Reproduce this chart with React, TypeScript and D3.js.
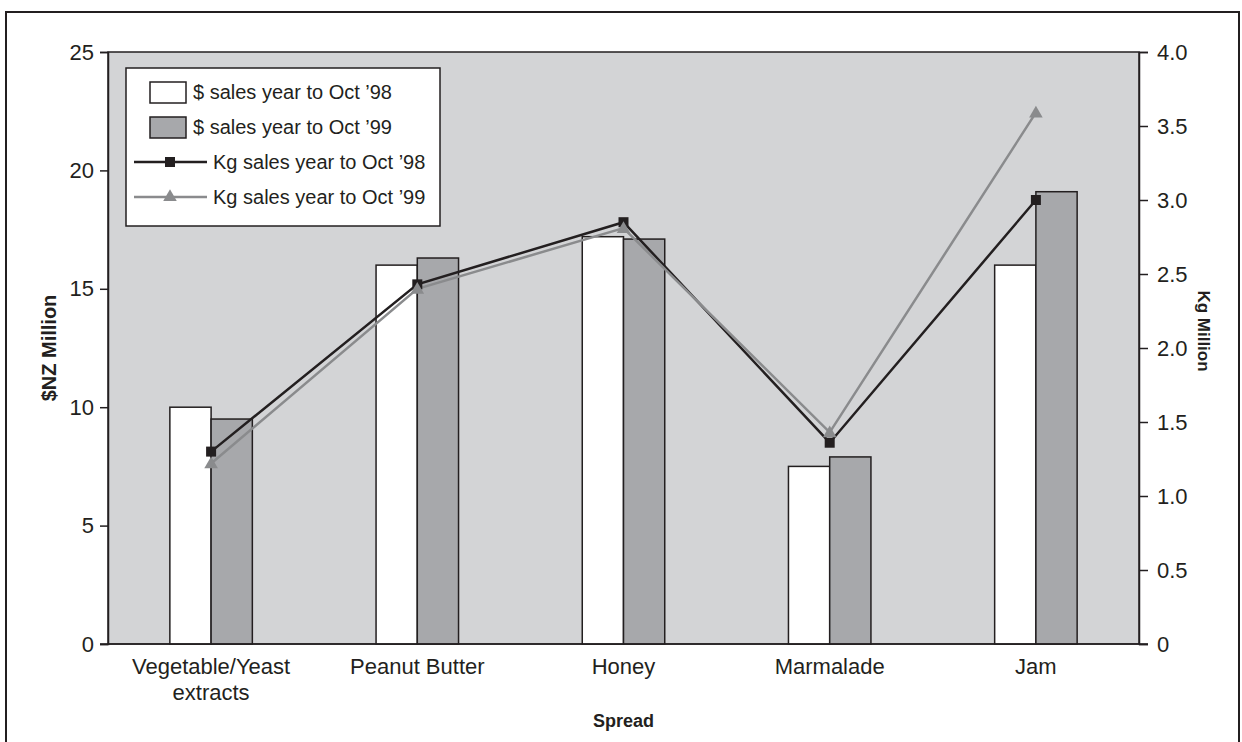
import React, { useEffect, useRef } from 'react';
import * as d3 from 'd3';

const categories = ['Vegetable/Yeast extracts', 'Peanut Butter', 'Honey', 'Marmalade', 'Jam'];
const dollars98 = [10.0, 16.0, 17.2, 7.5, 16.0];
const dollars99 = [9.5, 16.3, 17.1, 7.9, 19.1];
const kg98 = [1.3, 2.43, 2.85, 1.36, 3.0];
const kg99 = [1.22, 2.4, 2.81, 1.43, 3.59];
const leftTicks = [0, 5, 10, 15, 20, 25];
const rightTicks = [0, 0.5, 1.0, 1.5, 2.0, 2.5, 3.0, 3.5, 4.0];

const W = 1242;
const H = 742;
const INK = '#231f20';
const PLOT_BG = '#d3d4d6';
const BAR99 = '#a7a8ab';
const LINE99 = '#8a8b8d';
const FONT = '"Liberation Sans", Arial, sans-serif';

const App: React.FC = () => {
  const svgRef = useRef<SVGSVGElement>(null);

  useEffect(() => {
    if (!svgRef.current) return;
    const svg = d3.select(svgRef.current);
    svg.selectAll('*').remove();

    const plot = { left: 108, top: 52, right: 1139, bottom: 644 };

    const x = d3.scaleBand<string>()
      .domain(categories)
      .range([plot.left, plot.right])
      .paddingInner(0)
      .paddingOuter(0);
    const yL = d3.scaleLinear().domain([0, 25]).range([plot.bottom, plot.top]);
    const yR = d3.scaleLinear().domain([0, 4]).range([plot.bottom, plot.top]);
    const barW = x.bandwidth() / 5;
    const cx = (c: string) => x(c)! + x.bandwidth() / 2;

    // outer frame
    svg.append('rect')
      .attr('x', 6).attr('y', 12)
      .attr('width', 1233).attr('height', 740)
      .attr('fill', 'white')
      .attr('stroke', INK).attr('stroke-width', 2);

    // plot area
    svg.append('rect')
      .attr('x', plot.left).attr('y', plot.top)
      .attr('width', plot.right - plot.left).attr('height', plot.bottom - plot.top)
      .attr('fill', PLOT_BG)
      .attr('stroke', INK).attr('stroke-width', 1.5);

    // bars
    const g = svg.append('g');
    g.selectAll('.b98')
      .data(categories)
      .enter().append('rect')
      .attr('x', d => cx(d) - barW)
      .attr('y', (d, i) => yL(dollars98[i]))
      .attr('width', barW)
      .attr('height', (d, i) => plot.bottom - yL(dollars98[i]))
      .attr('fill', 'white')
      .attr('stroke', INK).attr('stroke-width', 1.5);
    g.selectAll('.b99')
      .data(categories)
      .enter().append('rect')
      .attr('x', d => cx(d))
      .attr('y', (d, i) => yL(dollars99[i]))
      .attr('width', barW)
      .attr('height', (d, i) => plot.bottom - yL(dollars99[i]))
      .attr('fill', BAR99)
      .attr('stroke', INK).attr('stroke-width', 1.5);

    // lines
    const line = d3.line<number>()
      .x((d, i) => cx(categories[i]))
      .y(d => yR(d));
    g.append('path').attr('d', line(kg98)).attr('fill', 'none')
      .attr('stroke', INK).attr('stroke-width', 2.5);
    g.append('path').attr('d', line(kg99)).attr('fill', 'none')
      .attr('stroke', LINE99).attr('stroke-width', 2.5);

    const tri = d3.symbol().type(d3.symbolTriangle).size(80);
    g.selectAll('.m98')
      .data(kg98)
      .enter().append('rect')
      .attr('x', (d, i) => cx(categories[i]) - 5)
      .attr('y', d => yR(d) - 5)
      .attr('width', 10).attr('height', 10)
      .attr('fill', INK);
    g.selectAll('.m99')
      .data(kg99)
      .enter().append('path')
      .attr('d', tri()!)
      .attr('transform', (d, i) => `translate(${cx(categories[i])},${yR(d) + 1})`)
      .attr('fill', LINE99);

    // axes
    svg.append('line')
      .attr('x1', plot.left - 8).attr('x2', plot.right + 9)
      .attr('y1', plot.bottom).attr('y2', plot.bottom)
      .attr('stroke', INK).attr('stroke-width', 1.5);

    const leftAxis = svg.append('g')
      .attr('transform', `translate(${plot.left},0)`)
      .call(d3.axisLeft(yL).tickValues(leftTicks).tickSize(8).tickPadding(6).tickFormat(d3.format('d')));
    leftAxis.select('.domain').attr('stroke', INK).attr('stroke-width', 1.5);
    leftAxis.selectAll('line').attr('stroke', INK).attr('stroke-width', 1.5);
    leftAxis.selectAll('text')
      .style('font-family', FONT).style('font-size', '22px').attr('fill', INK);

    const rightAxis = svg.append('g')
      .attr('transform', `translate(${plot.right},0)`)
      .call(d3.axisRight(yR).tickValues(rightTicks).tickSize(9).tickPadding(9)
        .tickFormat(d => (d === 0 ? '0' : d3.format('.1f')(d as number))));
    rightAxis.select('.domain').attr('stroke', INK).attr('stroke-width', 1.5);
    rightAxis.selectAll('line').attr('stroke', INK).attr('stroke-width', 1.5);
    rightAxis.selectAll('text')
      .style('font-family', FONT).style('font-size', '22px').attr('fill', INK);

    // category labels
    const catLabels = svg.append('g')
      .style('font-family', FONT).style('font-size', '22px').attr('fill', INK)
      .attr('text-anchor', 'middle');
    categories.forEach(c => {
      const parts = c === 'Vegetable/Yeast extracts' ? ['Vegetable/Yeast', 'extracts'] : [c];
      const t = catLabels.append('text').attr('x', cx(c)).attr('y', 674);
      parts.forEach((p, i) => {
        t.append('tspan').attr('x', cx(c)).attr('dy', i === 0 ? 0 : 26).text(p);
      });
    });

    // axis titles
    const titleStyle = (s: d3.Selection<SVGTextElement, unknown, null, undefined>, size: number) =>
      s.style('font-family', FONT).style('font-size', `${size}px`).style('font-weight', 'bold')
        .attr('fill', INK).attr('text-anchor', 'middle');
    svg.append('text')
      .attr('x', (plot.left + plot.right) / 2).attr('y', 727)
      .call(titleStyle, 18).text('Spread');
    svg.append('text')
      .attr('transform', `translate(56,${(plot.top + plot.bottom) / 2}) rotate(-90)`)
      .call(titleStyle, 20).text('$NZ Million');
    svg.append('text')
      .attr('transform', `translate(1198,331) rotate(90)`)
      .call(titleStyle, 17).text('Kg Million');

    // legend
    const lg = svg.append('g');
    lg.append('rect')
      .attr('x', 126).attr('y', 68).attr('width', 314).attr('height', 158)
      .attr('fill', 'white').attr('stroke', INK).attr('stroke-width', 1.5);
    const rows = [
      { label: '$ sales year to Oct ’98', kind: 'bar', fill: 'white' },
      { label: '$ sales year to Oct ’99', kind: 'bar', fill: BAR99 },
      { label: 'Kg sales year to Oct ’98', kind: 'line98', fill: INK },
      { label: 'Kg sales year to Oct ’99', kind: 'line99', fill: LINE99 },
    ];
    rows.forEach((r, i) => {
      const yc = 92 + i * 35;
      if (r.kind === 'bar') {
        lg.append('rect')
          .attr('x', 150).attr('y', yc - 10).attr('width', 36).attr('height', 21)
          .attr('fill', r.fill).attr('stroke', INK).attr('stroke-width', 1.5);
      } else {
        lg.append('line')
          .attr('x1', 134).attr('x2', 207).attr('y1', yc).attr('y2', yc)
          .attr('stroke', r.fill).attr('stroke-width', 2.5);
        if (r.kind === 'line98') {
          lg.append('rect').attr('x', 165).attr('y', yc - 5).attr('width', 10).attr('height', 10)
            .attr('fill', INK);
        } else {
          lg.append('path').attr('d', tri()!).attr('transform', `translate(170,${yc})`)
            .attr('fill', LINE99);
        }
      }
      lg.append('text')
        .attr('x', r.kind === 'bar' ? 193 : 213).attr('y', yc + 7)
        .style('font-family', FONT).style('font-size', '20px').attr('fill', INK)
        .text(r.label);
    });
  }, []);

  return (
    <svg
      ref={svgRef}
      width={W}
      height={H}
      style={{ position: 'absolute', left: 0, top: 0, background: 'white' }}
    />
  );
};

export default App;
